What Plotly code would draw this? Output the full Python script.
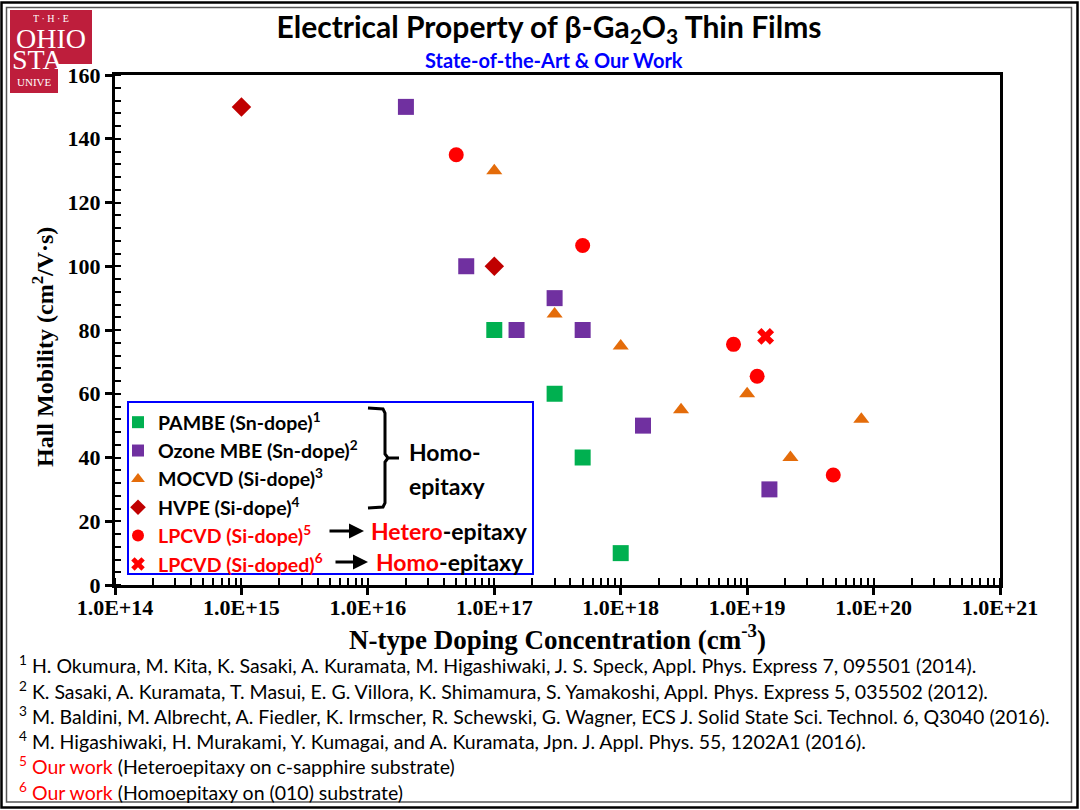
import plotly.graph_objects as go

# data: doping (cm^-3) vs Hall mobility (cm2/V.s)
pambe_x = [1e17, 3e17, 5e17, 1e18]
pambe_y = [80, 60, 40, 10]

ozone_x = [2e16, 6e16, 1.5e17, 3e17, 5e17, 1.5e18, 1.5e19]
ozone_y = [150, 100, 80, 90, 80, 50, 30]

mocvd_x = [1e17, 3e17, 1e18, 3e18, 1e19, 2.2e19, 8e19]
mocvd_y = [130, 85, 75, 55, 60, 40, 52]

hvpe_x = [1e15, 1e17]
hvpe_y = [150, 100]

hetero_x = [5e16, 5e17, 7.8e18, 1.2e19, 4.8e19]
hetero_y = [135, 106.5, 75.5, 65.5, 34.5]

homo_x = [1.4e19]
homo_y = [78]

x_ticks = [1e14, 1e15, 1e16, 1e17, 1e18, 1e19, 1e20, 1e21]
x_ticktext = ["1.0E+14", "1.0E+15", "1.0E+16", "1.0E+17",
              "1.0E+18", "1.0E+19", "1.0E+20", "1.0E+21"]

refs = [
    "<sup>1</sup> H. Okumura, M. Kita, K. Sasaki, A. Kuramata, M. Higashiwaki, J. S. Speck, Appl. Phys. Express 7, 095501 (2014).",
    "<sup>2</sup> K. Sasaki, A. Kuramata, T. Masui, E. G. Villora, K. Shimamura, S. Yamakoshi, Appl. Phys. Express 5, 035502 (2012).",
    "<sup>3</sup> M. Baldini, M. Albrecht, A. Fiedler, K. Irmscher, R. Schewski, G. Wagner, ECS J. Solid State Sci. Technol. 6, Q3040 (2016).",
    "<sup>4</sup> M. Higashiwaki, H. Murakami, Y. Kumagai, and A. Kuramata, Jpn. J. Appl. Phys. 55, 1202A1 (2016).",
    "<span style='color:#FF0000'><sup>5</sup> Our work</span> (Heteroepitaxy on c-sapphire substrate)",
    "<span style='color:#FF0000'><sup>6</sup> Our work</span> (Homoepitaxy on (010) substrate)",
]

SANS = "Lato"
SERIF = "Liberation Serif"
W, H = 1080, 810
L, R, T, B = 115, 80, 75, 225


# pixel -> paper helpers
def px(x):
    return (x - L) / (W - L - R)


def py(y):
    return (H - B - y) / (H - T - B)


fig = go.Figure()

fig.add_trace(go.Scatter(x=pambe_x, y=pambe_y, mode="markers", name="PAMBE (Sn-dope)<sup>1</sup>",
                         legendgroup="a", marker=dict(symbol="square", size=16, color="#00B050")))
fig.add_trace(go.Scatter(x=ozone_x, y=ozone_y, mode="markers", name="Ozone MBE (Sn-dope)<sup>2</sup>",
                         legendgroup="b", marker=dict(symbol="square", size=16, color="#7030A0")))
fig.add_trace(go.Scatter(x=mocvd_x, y=mocvd_y, mode="markers", name="MOCVD (Si-dope)<sup>3</sup>",
                         legendgroup="c", marker=dict(symbol="triangle-up", size=14, color="#E46C0A")))
fig.add_trace(go.Scatter(x=hvpe_x, y=hvpe_y, mode="markers", name="HVPE (Si-dope)<sup>4</sup>",
                         legendgroup="d", marker=dict(symbol="diamond", size=15, color="#C00000")))
fig.add_trace(go.Scatter(x=hetero_x, y=hetero_y, mode="markers",
                         name="<span style='color:#FF0000'>LPCVD (Si-dope)<sup>5</sup></span>",
                         legendgroup="e", marker=dict(symbol="circle", size=15, color="#FF0000")))
fig.add_trace(go.Scatter(x=homo_x, y=homo_y, mode="markers",
                         name="<span style='color:#FF0000'>LPCVD (Si-doped)<sup>6</sup></span>",
                         legendgroup="f", marker=dict(symbol="x", size=15, color="#FF0000")))

shapes = [
    # page frame (double line)
    dict(type="rect", xref="paper", yref="paper", x0=px(1.5), x1=px(1077.5), y0=py(807.5), y1=py(2.5),
         line=dict(color="black", width=2.5)),
    dict(type="rect", xref="paper", yref="paper", x0=px(6.5), x1=px(1071.5), y0=py(802), y1=py(7.5),
         line=dict(color="#555555", width=1.5)),
    # logo block
    dict(type="rect", xref="paper", yref="paper", x0=px(10), x1=px(92), y0=py(93), y1=py(10),
         fillcolor="#BE1E3C", line=dict(width=0), layer="below"),
    dict(type="rect", xref="paper", yref="paper", x0=px(58), x1=px(96), y0=py(96), y1=py(64),
         fillcolor="white", line=dict(width=0), layer="below"),
    # legend box
    dict(type="rect", xref="paper", yref="paper", x0=px(128), x1=px(533), y0=py(574), y1=py(402),
         line=dict(color="#0000FF", width=2)),
    # bracket
    dict(type="path", xref="paper", yref="paper",
         path=f"M{px(368)},{py(408)} L{px(383)},{py(409)} L{px(385)},{py(413)} L{px(385)},{py(454)} "
              f"L{px(388)},{py(458)} L{px(399)},{py(458)} M{px(388)},{py(458)} L{px(385)},{py(462)} "
              f"L{px(385)},{py(503)} L{px(383)},{py(507)} L{px(368)},{py(508)}",
         line=dict(color="black", width=3)),
]

ann = []
# logo text
for txt, x, y, s, h in [("T · H · E", 51, 18, 10, 10), ("OHIO", 51, 38, 28, 20),
                        ("STA", 37, 59, 28, 20), ("UNIVE", 34, 82, 11, 11)]:
    ann.append(dict(x=px(x), y=py(y), xref="paper", yref="paper", text=txt, showarrow=False, height=h,
                    font=dict(family=SERIF, size=s, color="white"), xanchor="center", yanchor="middle"))

ann.append(dict(x=px(554), y=py(60), xref="paper", yref="paper", text="<b>State-of-the-Art &amp; Our Work</b>",
                showarrow=False, xanchor="center", yanchor="middle",
                font=dict(family=SANS, size=20, color="#0000FF")))

# y axis title, placed where the original sits
ann.append(dict(x=px(43), y=py(347), xref="paper", yref="paper", textangle=-90, showarrow=False,
                text="<b>Hall Mobility (cm<sup>2</sup>/V·s)</b>", xanchor="center", yanchor="middle",
                font=dict(family=SERIF, size=24, color="black")))

# legend side notes
notes = [
    dict(x=px(407), y=py(452), text="<b>Homo-</b>", xanchor="left"),
    dict(x=px(407), y=py(486), text="<b>epitaxy</b>", xanchor="left"),
    dict(x=px(369), y=py(531), text="<b><span style='color:#FF0000'>Hetero</span>-epitaxy</b>", xanchor="left"),
    dict(x=px(374), y=py(562), text="<b><span style='color:#FF0000'>Homo</span>-epitaxy</b>", xanchor="left"),
]
for a in notes:
    a.update(xref="paper", yref="paper", showarrow=False, yanchor="middle",
             font=dict(family=SANS, size=23, color="black"))
ann += notes

for ytxt, x0, x1 in [(531, 328, 364), (562, 334, 368)]:
    ann.append(dict(x=px(x1), y=py(ytxt), xref="paper", yref="paper", ax=x0 - x1, ay=0, text="",
                    showarrow=True, arrowhead=2, arrowsize=1, arrowwidth=3, arrowcolor="black"))

# references
for i, r in enumerate(refs):
    ann.append(dict(x=px(17), y=py(665 + 25.2 * i), xref="paper", yref="paper", text=r, showarrow=False,
                    xanchor="left", yanchor="middle", font=dict(family=SANS, size=19.5, color="black")))

fig.update_layout(
    width=W, height=H,
    margin=dict(l=L, r=R, t=T, b=B),
    paper_bgcolor="white", plot_bgcolor="white",
    title=dict(text="<b>Electrical Property of β-Ga<sub>2</sub>O<sub>3</sub> Thin Films</b>",
               x=549 / W, y=1 - 27 / H, xanchor="center", yanchor="middle",
               font=dict(family=SANS, size=30, color="black")),
    legend=dict(x=px(118), y=py(403), xanchor="left", yanchor="top", bgcolor="rgba(0,0,0,0)",
                borderwidth=0, tracegroupgap=0, itemsizing="constant",
                font=dict(family=SANS, size=19.5, color="black", weight="bold")),
    shapes=shapes,
    annotations=ann,
)

fig.update_xaxes(
    type="log", range=[14, 21], tickvals=x_ticks, ticktext=x_ticktext,
    showline=True, linewidth=3, linecolor="black", mirror=True, showgrid=False, zeroline=False,
    ticks="outside", ticklen=7, tickwidth=3, tickcolor="black", ticklabelstandoff=-6,
    minor=dict(ticks="inside", ticklen=7, tickwidth=2, tickcolor="black", dtick="D1", showgrid=False),
    tickfont=dict(family=SERIF, size=22, color="black", weight="bold"),
    title=dict(text="<b>N-type Doping Concentration (cm<sup>-3</sup>)</b>", standoff=2,
               font=dict(family=SERIF, size=27, color="black")),
)
fig.update_yaxes(
    range=[0, 160], dtick=20,
    showline=True, linewidth=3, linecolor="black", mirror=True, showgrid=False, zeroline=False,
    ticks="outside", ticklen=7, tickwidth=3, tickcolor="black",
    minor=dict(ticks="inside", ticklen=6, tickwidth=2, tickcolor="black", dtick=4, showgrid=False),
    tickfont=dict(family=SERIF, size=22, color="black", weight="bold"),
)

fig.write_html("out.html", config={"displayModeBar": False},
               post_script="document.body.style.margin='0px';")
